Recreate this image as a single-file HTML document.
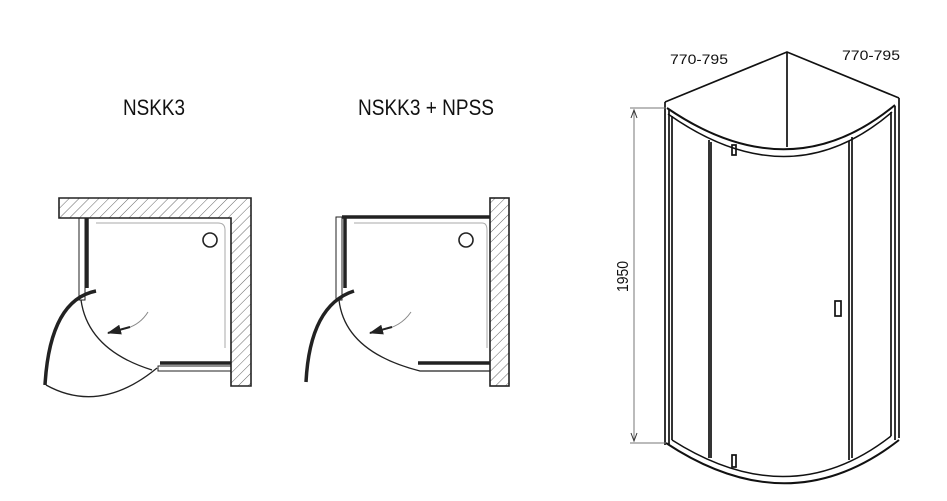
<!DOCTYPE html>
<html><head><meta charset="utf-8"><style>
html,body{margin:0;padding:0;background:#fff;}
svg{display:block;}
text{font-family:"Liberation Sans",sans-serif;fill:#111;}
</style></head><body>
<svg width="947" height="501" viewBox="0 0 947 501" xmlns="http://www.w3.org/2000/svg">
<defs>
<pattern id="h" width="7" height="7" patternUnits="userSpaceOnUse" patternTransform="rotate(45)">
<rect width="7" height="7" fill="#fff"/><line x1="0" y1="0" x2="0" y2="7" stroke="#555" stroke-width="0.9"/>
</pattern>
<marker id="ar" markerWidth="14" markerHeight="12" refX="13" refY="6" orient="auto" markerUnits="userSpaceOnUse">
<path d="M0,1 L14,6 L0,11 z" fill="#222"/></marker>
</defs>
<text x="123" y="115" font-size="22" textLength="62" lengthAdjust="spacingAndGlyphs">NSKK3</text>
<text x="358" y="115" font-size="22" textLength="136" lengthAdjust="spacingAndGlyphs">NSKK3 + NPSS</text>

<!-- Diagram 1 -->
<g fill="none" stroke="#222">
<path d="M59,198 H251 V386 H231 V218 H59 Z" fill="url(#h)" stroke-width="1.6"/>
<path d="M96,223 H218 Q225,223 225,230 V348" stroke="#aaa" stroke-width="1"/>
<circle cx="210" cy="240" r="7" stroke-width="1.6"/>
<rect x="79" y="218" width="6" height="82" stroke-width="1"/>
<line x1="87" y1="218" x2="87" y2="288" stroke-width="3.5"/>
<rect x="158" y="366" width="73" height="5" stroke-width="1"/>
<line x1="160" y1="363" x2="231" y2="363" stroke-width="3.5"/>
<path d="M81,300 Q88,350 152,370" stroke-width="1.3"/>
<path d="M96,291 Q50,300 45,385" stroke-width="3.5"/>
<path d="M46,385 Q100,415 157,368" stroke-width="1.3"/>
<path d="M148,312 Q138,328 118,330" stroke="#888" stroke-width="1"/>
<path d="M130,327 L108,333" stroke-width="2" marker-end="url(#ar)"/>
</g>

<!-- Diagram 2 -->
<g fill="none" stroke="#222">
<rect x="490" y="198" width="19" height="188" fill="url(#h)" stroke-width="1.6"/>
<path d="M354,223 H482 Q487,223 487,230 V348" stroke="#aaa" stroke-width="1"/>
<circle cx="466" cy="240" r="7" stroke-width="1.6"/>
<line x1="342" y1="217" x2="490" y2="217" stroke-width="3.5"/>
<rect x="336" y="217" width="6" height="83" stroke-width="1"/>
<line x1="345" y1="218" x2="345" y2="288" stroke-width="3.5"/>
<line x1="418" y1="363" x2="490" y2="363" stroke-width="3.5"/>
<path d="M339,300 Q345,352 420,371 H490" stroke-width="1.3"/>
<path d="M354,291 Q310,305 306,382" stroke-width="3.5"/>
<path d="M411,312 Q400,328 380,330" stroke="#888" stroke-width="1"/>
<path d="M392,327 L370,333" stroke-width="2" marker-end="url(#ar)"/>
</g>

<!-- 3D view -->
<g fill="none" stroke="#111" stroke-width="1.7">
<path d="M665,102 L787,52 L899,98"/>
<line x1="787" y1="52" x2="787" y2="147"/>
<path d="M667,108 Q790,192 895,105" stroke-width="2"/>
<path d="M668,114 Q790,200 892,112" stroke-width="1.5"/>
<line x1="665" y1="102" x2="665" y2="445"/>
<line x1="669" y1="110" x2="669" y2="445"/>
<line x1="672" y1="116" x2="672" y2="440"/>
<line x1="899" y1="98" x2="899" y2="438"/>
<line x1="895" y1="106" x2="895" y2="440"/>
<line x1="891" y1="112" x2="891" y2="436"/>
<line x1="709" y1="140" x2="709" y2="458"/>
<line x1="711" y1="142" x2="711" y2="458"/>
<line x1="849" y1="141" x2="849" y2="460"/>
<line x1="852" y1="137" x2="852" y2="458"/>
<rect x="732" y="145" width="4" height="10"/>
<rect x="732" y="455" width="4" height="12"/>
<rect x="835" y="301" width="6" height="15"/>
<path d="M666,443 Q790,525 899,440" stroke-width="2"/>
<path d="M672,440 Q790,515 891,436" stroke-width="1.5"/>
</g>
<g stroke="#777" stroke-width="1" fill="none">
<line x1="630" y1="108" x2="666" y2="108"/>
<line x1="630" y1="443" x2="666" y2="443"/>
<line x1="634" y1="110" x2="634" y2="441"/>
<path d="M631,118 L634,110 L637,118 M631,433 L634,441 L637,433" stroke="#333"/>
</g>
<text x="0" y="0" font-size="16" transform="translate(628,292) rotate(-90)" textLength="31" lengthAdjust="spacingAndGlyphs">1950</text>
<text x="670" y="64" font-size="14" textLength="58" lengthAdjust="spacingAndGlyphs">770-795</text>
<text x="842" y="60" font-size="14" textLength="58" lengthAdjust="spacingAndGlyphs">770-795</text>
</svg>
</body></html>
